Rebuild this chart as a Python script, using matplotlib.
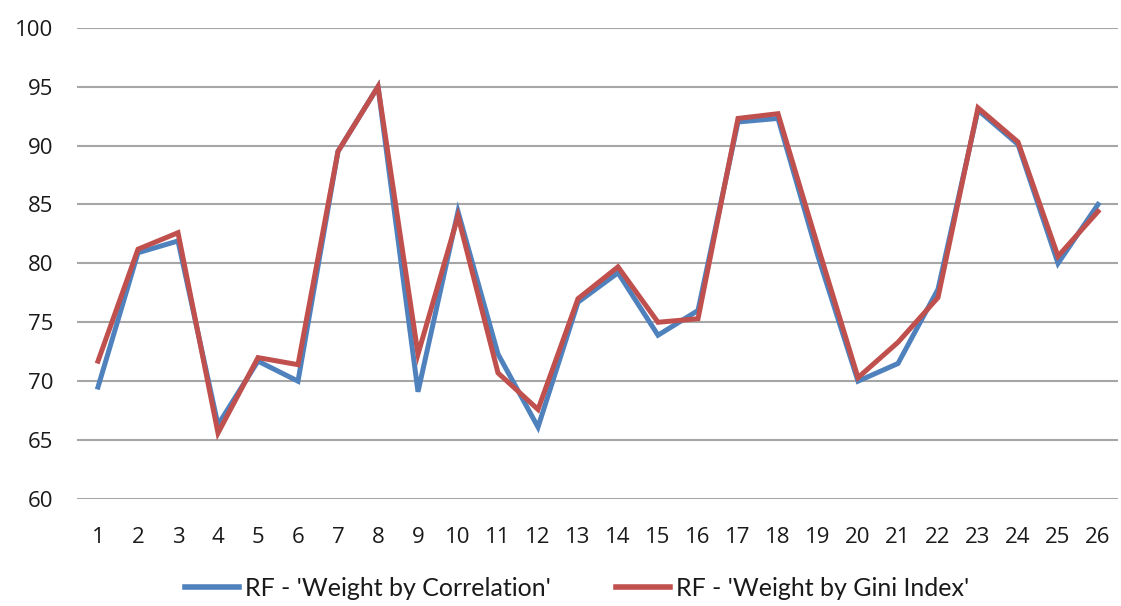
import matplotlib
matplotlib.use("Agg")
import matplotlib.pyplot as plt

# Run index and accuracy (%) for the two feature-weighting schemes
runs = list(range(1, 27))
weight_by_correlation = [69.5, 80.9, 81.9, 66.3, 71.7, 70.0, 89.5, 95.0, 69.1, 84.4,
                         72.3, 66.1, 76.7, 79.2, 73.9, 76.0, 92.0, 92.3, 80.6, 70.0,
                         71.5, 77.8, 93.0, 90.1, 80.0, 85.0]
weight_by_gini = [71.7, 81.2, 82.6, 65.6, 72.0, 71.4, 89.5, 95.0, 72.3, 84.0,
                  70.7, 67.6, 77.0, 79.7, 75.0, 75.3, 92.3, 92.7, 81.4, 70.3,
                  73.3, 77.1, 93.2, 90.3, 80.6, 84.4]
y_ticks = [60, 65, 70, 75, 80, 85, 90, 95, 100]
series_labels = ["RF - 'Weight by Correlation'", "RF - 'Weight by Gini Index'"]

BLUE = "#4F81BD"
RED = "#C0504D"

fig = plt.figure(figsize=(11.21, 6.06), dpi=100)
ax = fig.add_axes([77 / 1121, 1 - 499 / 606, (1118 - 77) / 1121, (499 - 27.7) / 606])

ax.plot(runs, weight_by_correlation, color=BLUE, lw=3.6, solid_joinstyle="miter",
        label=series_labels[0], zorder=3)
ax.plot(runs, weight_by_gini, color=RED, lw=3.6, solid_joinstyle="miter",
        label=series_labels[1], zorder=4)

ax.set_xlim(0.475, 26.5)
ax.set_ylim(60, 100)
ax.set_yticks(y_ticks)
ax.set_xticks(runs)
ax.set_xticklabels([str(r) for r in runs])

tick_family = ["Open Sans", "DejaVu Sans"]
for lbl in ax.get_xticklabels() + ax.get_yticklabels():
    lbl.set_fontfamily(tick_family)
    lbl.set_fontsize(16)
    lbl.set_color("#1a1a1a")

ax.tick_params(axis="both", length=0)
ax.tick_params(axis="x", pad=20)
ax.tick_params(axis="y", pad=17)

ax.yaxis.grid(True, color="#A6A6A6", lw=1.5)
ax.set_axisbelow(True)
for s in ax.spines.values():
    s.set_visible(False)

leg = fig.legend(loc="center", bbox_to_anchor=(577 / 1121, 1 - 588 / 606),
                 ncol=2, frameon=False, handlelength=2.15, handletextpad=0.25,
                 columnspacing=2.6, borderpad=0.2,
                 prop=dict(family=["Lato", "DejaVu Sans"], size=18))
for line in leg.get_lines():
    line.set_linewidth(4)
for t in leg.get_texts():
    t.set_color("#1a1a1a")

fig.savefig("out.png", dpi=100)
